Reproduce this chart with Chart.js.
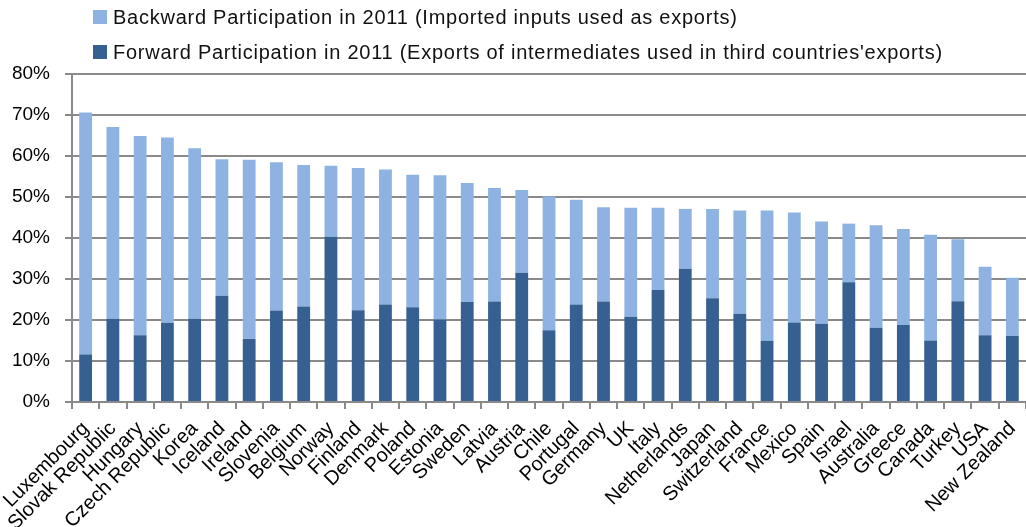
<!DOCTYPE html>
<html>
<head>
<meta charset="utf-8">
<script src="https://cdn.jsdelivr.net/npm/chart.js@4/dist/chart.umd.min.js"></script>
<style>
  html, body { margin: 0; padding: 0; background: #ffffff; }
  #wrap { width: 1026px; height: 527px; }
</style>
</head>
<body>
<div id="wrap"><canvas id="c" width="1026" height="527"></canvas></div>
<script>
// GVC participation of OECD countries, 2011 (% of gross exports)
const countries = [
  'Luxembourg', 'Slovak Republic', 'Hungary', 'Czech Republic', 'Korea', 'Iceland',
  'Ireland', 'Slovenia', 'Belgium', 'Norway', 'Finland', 'Denmark', 'Poland',
  'Estonia', 'Sweden', 'Latvia', 'Austria', 'Chile', 'Portugal', 'Germany', 'UK',
  'Italy', 'Netherlands', 'Japan', 'Switzerland', 'France', 'Mexico', 'Spain',
  'Israel', 'Australia', 'Greece', 'Canada', 'Turkey', 'USA', 'New Zealand'
];

// Forward participation (exports of intermediates used in third countries' exports)
const forward = [
  11.6, 20.3, 16.3, 19.3, 20.3, 25.9,
  15.4, 22.3, 23.3, 40.3, 22.4, 23.8, 23.1,
  20.1, 24.4, 24.5, 31.5, 17.5, 23.8, 24.5, 20.8,
  27.3, 32.5, 25.3, 21.5, 14.9, 19.4, 19.1,
  29.2, 18.1, 18.8, 15.0, 24.6, 16.3, 16.1
];

// Backward participation (imported inputs used in exports)
const backward = [
  59.0, 46.8, 48.6, 45.2, 41.6, 33.3,
  43.7, 36.2, 34.5, 17.3, 34.7, 32.9, 32.3,
  35.2, 29.0, 27.7, 20.2, 32.6, 25.5, 23.0, 26.6,
  20.1, 14.6, 21.8, 25.2, 31.8, 26.8, 24.9,
  14.3, 25.0, 23.4, 25.8, 15.1, 16.7, 14.2
];

const yTicks = [0, 10, 20, 30, 40, 50, 60, 70, 80];

const seriesNames = {
  backward: 'Backward Participation in 2011 (Imported inputs used as exports)',
  forward: "Forward Participation in 2011 (Exports of intermediates used in third countries'exports)"
};

const DARK = '#376092';
const LIGHT = '#8EB3E2';
const GRID = '#8a8a8a';
const FONT = '"Liberation Sans", Arial, sans-serif';

// Legend drawn as a stacked list above the plot, backward series first
const stackedLegend = {
  id: 'stackedLegend',
  afterDraw(chart) {
    const ctx = chart.ctx;
    const items = [chart.data.datasets[1], chart.data.datasets[0]];
    ctx.save();
    ctx.font = '20px ' + FONT;
    ctx.letterSpacing = '0.75px';
    ctx.textBaseline = 'middle';
    ctx.textAlign = 'left';
    items.forEach((ds, i) => {
      const cy = 17 + i * 35;
      ctx.fillStyle = ds.backgroundColor;
      ctx.fillRect(93, cy - 7, 14, 14);
      ctx.fillStyle = '#111111';
      ctx.fillText(ds.label, 113, cy + 1);
    });
    ctx.restore();
  }
};

new Chart(document.getElementById('c'), {
  type: 'bar',
  data: {
    labels: countries,
    datasets: [
      {
        label: seriesNames.forward,
        data: forward,
        backgroundColor: DARK,
        stack: 'gvc',
        barPercentage: 0.47,
        categoryPercentage: 1.0
      },
      {
        label: seriesNames.backward,
        data: backward,
        backgroundColor: LIGHT,
        stack: 'gvc',
        barPercentage: 0.47,
        categoryPercentage: 1.0
      }
    ]
  },
  options: {
    responsive: false,
    animation: false,
    devicePixelRatio: 1,
    layout: { padding: { top: 74, right: 0, left: 0, bottom: 0 } },
    plugins: {
      legend: { display: false },
      tooltip: { enabled: false }
    },
    scales: {
      x: {
        stacked: true,
        grid: {
          display: true,
          offset: true,
          drawOnChartArea: false,
          drawTicks: true,
          tickLength: 7,
          color: GRID,
          lineWidth: 2
        },
        border: { display: true, color: GRID, width: 2 },
        ticks: {
          autoSkip: false,
          minRotation: 45,
          maxRotation: 45,
          padding: 8,
          color: '#000000',
          font: { family: FONT, size: 20 }
        },
        afterFit(scale) {
          scale.height = 125;
          scale.paddingLeft = 0;
          scale.paddingRight = 0;
        }
      },
      y: {
        stacked: true,
        min: 0,
        max: 80,
        afterBuildTicks(scale) {
          scale.ticks = yTicks.map(v => ({ value: v }));
        },
        grid: {
          color: GRID,
          lineWidth: 2,
          drawTicks: true,
          tickLength: 7
        },
        border: { display: true, color: GRID, width: 2 },
        ticks: {
          padding: 15,
          color: '#000000',
          font: { family: FONT, size: 19 },
          callback: v => v + '%'
        },
        afterFit(scale) {
          scale.width = 72;
          scale.paddingTop = 0;
          scale.paddingBottom = 0;
        }
      }
    }
  },
  plugins: [stackedLegend]
});
</script>
</body>
</html>
